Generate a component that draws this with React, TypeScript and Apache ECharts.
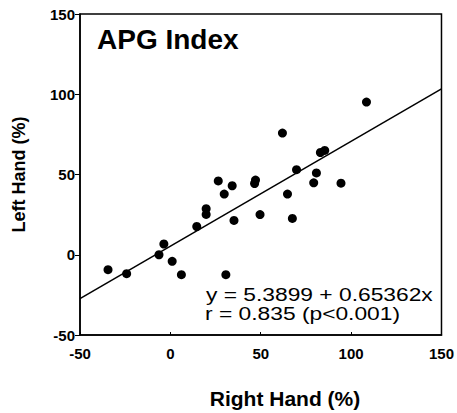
import React, { useEffect, useRef } from "react";
import * as echarts from "echarts";

const rightHand = [108.5, 62.0, 83.0, 85.4, 69.8, 80.8, 26.5, 34.2, 47.1, 46.6, 79.3, 94.4, 29.8, 64.8, 19.8, 19.8, 49.6, 35.2, 67.5, 14.6, -3.6, -6.3, 1.0, 6.1, 30.7, -34.5, -24.2];
const leftHand = [95.1, 75.8, 63.7, 65.0, 53.0, 51.0, 46.0, 43.0, 46.5, 44.4, 44.8, 44.6, 37.8, 37.8, 28.7, 25.1, 25.0, 21.4, 22.6, 17.6, 6.7, 0.0, -4.1, -12.4, -12.4, -9.3, -11.8];
const fitLine = [[-50, -27.3], [150, 103.4]];
const axisTicks = { min: -50, max: 150, interval: 50 };
const titleText = "APG Index";
const equationText = "y = 5.3899 + 0.65362x";
const rText = "r = 0.835 (p<0.001)";
const xName = "Right Hand (%)";
const yName = "Left Hand (%)";

const FONT = "Liberation Sans, Arial, Helvetica, sans-serif";

export default function App() {
  const ref = useRef<HTMLDivElement>(null);
  useEffect(() => {
    if (!ref.current) return;
    const chart = echarts.init(ref.current, null, { renderer: "svg" });
    const points = rightHand.map((x, i) => [x, leftHand[i]]);
    chart.setOption({
      animation: false,
      backgroundColor: "#fff",
      grid: {
        left: 80,
        right: 11,
        top: 14,
        bottom: 78,
        show: true,
        borderColor: "#000",
        borderWidth: 1.5,
        backgroundColor: "transparent",
      },
      xAxis: {
        type: "value",
        ...axisTicks,
        axisLine: { show: true, onZero: false, lineStyle: { color: "#000", width: 1.5 } },
        axisTick: { show: true, inside: true, length: 3, lineStyle: { color: "#000" } },
        splitLine: { show: false },
        axisLabel: { color: "#000", fontWeight: "bold", fontSize: 15, fontFamily: FONT, margin: 11 },
      },
      yAxis: {
        type: "value",
        ...axisTicks,
        name: yName,
        nameLocation: "middle",
        nameGap: 52,
        nameRotate: 90,
        nameTextStyle: { color: "#000", fontWeight: "bold", fontSize: 18, fontFamily: FONT },
        axisLine: { show: true, onZero: false, lineStyle: { color: "#000", width: 1.5 } },
        axisTick: { show: true, inside: false, length: 5, lineStyle: { color: "#000" } },
        splitLine: { show: false },
        axisLabel: { color: "#000", fontWeight: "bold", fontSize: 15, fontFamily: FONT, margin: 5 },
      },
      series: [
        {
          type: "line",
          data: fitLine,
          showSymbol: false,
          symbol: "none",
          lineStyle: { color: "#000", width: 1.5 },
          z: 2,
        },
        {
          type: "scatter",
          data: points,
          symbol: "circle",
          symbolSize: 9,
          itemStyle: { color: "#000", opacity: 1 },
          z: 3,
        },
      ],
      graphic: [
        {
          type: "text",
          x: 97,
          y: 39.5,
          style: {
            text: titleText,
            fill: "#000",
            font: `bold 28px ${FONT}`,
            textAlign: "left",
            textVerticalAlign: "middle",
          },
        },
        {
          type: "text",
          x: 206,
          y: 294,
          scaleX: 1.2,
          style: {
            text: equationText,
            fill: "#000",
            font: `19px ${FONT}`,
            textAlign: "left",
            textVerticalAlign: "middle",
          },
        },
        {
          type: "text",
          x: 205,
          y: 313,
          scaleX: 1.2,
          style: {
            text: rText,
            fill: "#000",
            font: `19px ${FONT}`,
            textAlign: "left",
            textVerticalAlign: "middle",
          },
        },
        {
          type: "text",
          x: 285,
          y: 398,
          style: {
            text: xName,
            fill: "#000",
            font: `bold 21px ${FONT}`,
            textAlign: "center",
            textVerticalAlign: "middle",
          },
        },
      ],
    });
    return () => chart.dispose();
  }, []);
  return (
    <div
      ref={ref}
      style={{ position: "fixed", left: 0, top: 0, width: 457, height: 413, background: "#fff" }}
    />
  );
}
